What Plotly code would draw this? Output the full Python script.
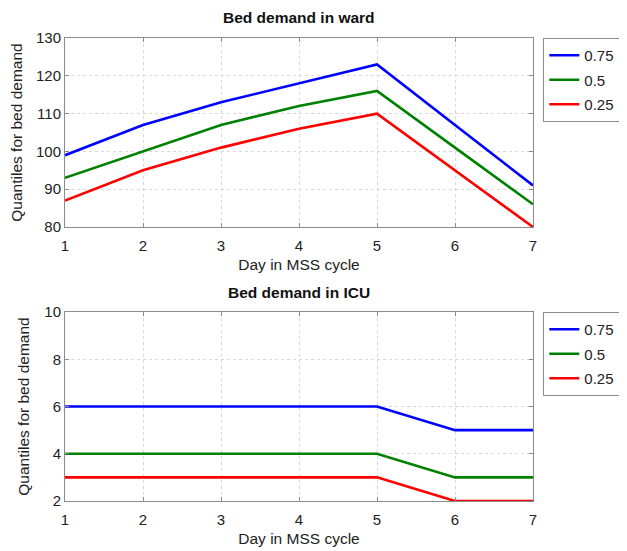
import plotly.graph_objects as go
from plotly.subplots import make_subplots

days = [1, 2, 3, 4, 5, 6, 7]
quantile_labels = ["0.75", "0.5", "0.25"]
colors = ["#0000ff", "#008000", "#ff0000"]

ward_q75 = [99, 107, 113, 118, 123, 107, 91]
ward_q50 = [93, 100, 107, 112, 116, 101, 86]
ward_q25 = [87, 95, 101, 106, 110, 95, 80]

icu_q75 = [6, 6, 6, 6, 6, 5, 5]
icu_q50 = [4, 4, 4, 4, 4, 3, 3]
icu_q25 = [3, 3, 3, 3, 3, 2, 2]

ward_ticks = [80, 90, 100, 110, 120, 130]
icu_ticks = [2, 4, 6, 8, 10]

FONT = "Liberation Sans, Arial, Helvetica, sans-serif"

fig = make_subplots(rows=2, cols=1)

for lab, col, ys in zip(quantile_labels, colors, [ward_q75, ward_q50, ward_q25]):
    fig.add_trace(go.Scatter(x=days, y=ys, mode="lines", name=lab,
                             line=dict(color=col, width=2.6),
                             legend="legend", legendgroup="w" + lab), row=1, col=1)
for lab, col, ys in zip(quantile_labels, colors, [icu_q75, icu_q50, icu_q25]):
    fig.add_trace(go.Scatter(x=days, y=ys, mode="lines", name=lab,
                             line=dict(color=col, width=2.6),
                             legend="legend2", legendgroup="i" + lab), row=2, col=1)

axis_common = dict(
    showline=True, linecolor="#8c8c8c", linewidth=1, mirror="ticks",
    ticks="inside", ticklen=4, tickcolor="#8c8c8c",
    showgrid=True, gridcolor="#d9d9d9", griddash="dot", gridwidth=1,
    zeroline=False, tickfont=dict(family=FONT, size=15, color="#222"),
)

title_font = dict(family=FONT, size=15.5, color="#222")

fig.update_xaxes(**axis_common, range=[1, 7], tickvals=days, domain=[0, 1], ticklabelstandoff=5)
fig.update_yaxes(**axis_common)

fig.update_xaxes(title=dict(text="Day in MSS cycle", font=title_font, standoff=6), row=1, col=1)
fig.update_xaxes(title=dict(text="Day in MSS cycle", font=title_font, standoff=6), row=2, col=1)
fig.update_yaxes(range=[80, 130], tickvals=ward_ticks, domain=[0.5918, 1.0],
                 title=dict(text="Quantiles for bed demand", font=title_font, standoff=10),
                 row=1, col=1)
fig.update_yaxes(range=[2, 10], tickvals=icu_ticks, domain=[0.0, 0.4082],
                 title=dict(text="Quantiles for bed demand", font=title_font, standoff=10),
                 row=2, col=1)

legend_common = dict(
    xref="paper", yref="paper", xanchor="left", yanchor="top",
    bgcolor="white", bordercolor="#8c8c8c", borderwidth=1,
    font=dict(family=FONT, size=15, color="#222"),
    tracegroupgap=2, itemwidth=30,
)

fig.update_layout(
    width=619, height=543,
    paper_bgcolor="white", plot_bgcolor="white",
    margin=dict(l=57, r=94, t=30, b=50, autoexpand=False),
    showlegend=True,
    legend=dict(**legend_common, x=1.022, y=1.0),
    legend2=dict(**legend_common, x=1.022, y=0.4082),
    annotations=[
        dict(text="<b>Bed demand in ward</b>", xref="paper", yref="paper",
             x=0.5, y=1.0443, xanchor="center", yanchor="middle", showarrow=False,
             font=dict(family=FONT, size=15.5, color="#111")),
        dict(text="<b>Bed demand in ICU</b>", xref="paper", yref="paper",
             x=0.5, y=0.4514, xanchor="center", yanchor="middle", showarrow=False,
             font=dict(family=FONT, size=15.5, color="#111")),
    ],
)

fig.write_html("out.html")
